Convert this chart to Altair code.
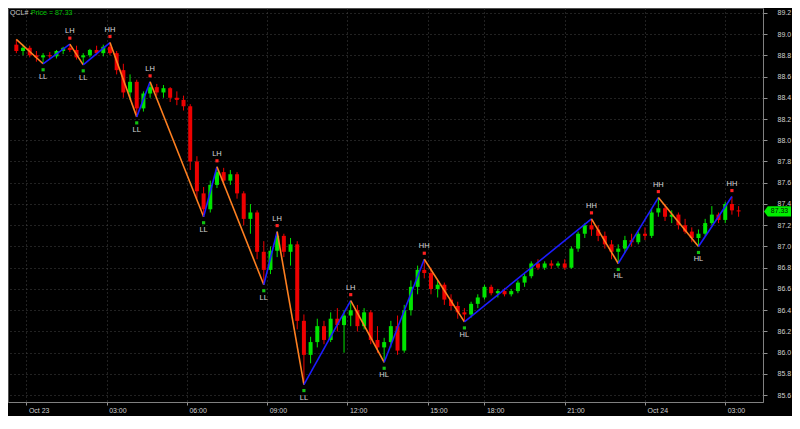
import altair as alt
import pandas as pd

symbol = "QCL#"
last_price = 87.33

opens = [88.90, 88.84, 88.87, 88.80, 88.78, 88.80, 88.79, 88.84, 88.87, 88.85,
         88.78, 88.80, 88.85, 88.82, 88.88, 88.82, 88.66, 88.45, 88.55, 88.30,
         88.44, 88.50, 88.45, 88.49, 88.40, 88.38, 88.32, 87.80, 87.50, 87.35,
         87.58, 87.70, 87.62, 87.68, 87.50, 87.26, 87.32, 86.95, 86.78, 86.96,
         87.10, 86.95, 87.02, 86.30, 85.98, 86.10, 86.25, 86.12, 86.32, 86.26,
         86.35, 86.40, 86.25, 86.38, 86.12, 86.05, 86.10, 86.25, 86.02, 86.40,
         86.62, 86.78, 86.75, 86.60, 86.64, 86.50, 86.44, 86.38, 86.36, 86.46,
         86.52, 86.62, 86.56, 86.58, 86.55, 86.58, 86.66, 86.72, 86.84, 86.80,
         86.84, 86.82, 86.84, 86.80, 86.98, 87.12, 87.20, 87.16, 87.10, 87.02,
         86.95, 86.98, 87.06, 87.04, 87.12, 87.10, 87.32, 87.36, 87.28, 87.30,
         87.20, 87.14, 87.08, 87.12, 87.22, 87.30, 87.25, 87.40, 87.34]
highs = [88.95, 88.90, 88.89, 88.84, 88.82, 88.83, 88.85, 88.88, 88.905, 88.89,
         88.82, 88.86, 88.89, 88.90, 88.92, 88.84, 88.72, 88.62, 88.57, 88.46,
         88.55, 88.53, 88.52, 88.50, 88.46, 88.42, 88.34, 87.85, 87.56, 87.62,
         87.75, 87.74, 87.72, 87.70, 87.52, 87.40, 87.34, 87.05, 87.00, 87.14,
         87.12, 87.08, 87.05, 86.36, 86.15, 86.32, 86.30, 86.38, 86.42, 86.40,
         86.49, 86.45, 86.42, 86.40, 86.25, 86.14, 86.30, 86.35, 86.45, 86.68,
         86.82, 86.88, 86.80, 86.68, 86.66, 86.55, 86.48, 86.42, 86.48, 86.55,
         86.64, 86.64, 86.60, 86.61, 86.60, 86.68, 86.74, 86.86, 86.88, 86.86,
         86.87, 86.86, 86.88, 87.00, 87.14, 87.22, 87.26, 87.20, 87.14, 87.06,
         87.02, 87.10, 87.12, 87.14, 87.18, 87.36, 87.46, 87.40, 87.34, 87.32,
         87.26, 87.18, 87.16, 87.26, 87.38, 87.32, 87.42, 87.47, 87.38]
lows = [88.82, 88.80, 88.78, 88.74, 88.72, 88.76, 88.77, 88.81, 88.83, 88.76,
        88.71, 88.78, 88.80, 88.79, 88.80, 88.62, 88.40, 88.38, 88.22, 88.27,
        88.40, 88.42, 88.40, 88.36, 88.33, 88.28, 87.72, 87.45, 87.28, 87.32,
        87.55, 87.58, 87.58, 87.45, 87.20, 87.12, 86.88, 86.64, 86.74, 86.90,
        86.90, 86.82, 86.22, 85.70, 85.90, 86.05, 86.08, 86.10, 86.20, 86.00,
        86.25, 86.20, 86.22, 86.08, 86.00, 85.91, 86.05, 85.98, 86.00, 86.35,
        86.55, 86.70, 86.55, 86.52, 86.45, 86.40, 86.32, 86.29, 86.33, 86.42,
        86.50, 86.54, 86.52, 86.53, 86.53, 86.56, 86.62, 86.70, 86.78, 86.78,
        86.79, 86.80, 86.78, 86.79, 86.95, 87.08, 87.10, 87.05, 86.98, 86.88,
        86.84, 86.94, 87.00, 87.02, 87.06, 87.08, 87.28, 87.24, 87.22, 87.16,
        87.12, 87.04, 87.00, 87.10, 87.20, 87.22, 87.22, 87.30, 87.28]
closes = [88.84, 88.87, 88.80, 88.78, 88.80, 88.79, 88.84, 88.87, 88.85, 88.78,
          88.80, 88.85, 88.82, 88.88, 88.82, 88.66, 88.45, 88.55, 88.30, 88.44,
          88.50, 88.45, 88.49, 88.40, 88.38, 88.32, 87.80, 87.52, 87.35, 87.58,
          87.70, 87.62, 87.68, 87.50, 87.26, 87.32, 86.95, 86.78, 86.96, 87.10,
          86.95, 87.02, 86.30, 85.98, 86.10, 86.25, 86.12, 86.32, 86.26, 86.35,
          86.40, 86.25, 86.38, 86.12, 86.05, 86.10, 86.25, 86.02, 86.40, 86.62,
          86.78, 86.75, 86.60, 86.64, 86.50, 86.44, 86.38, 86.36, 86.46, 86.52,
          86.62, 86.56, 86.58, 86.55, 86.58, 86.66, 86.72, 86.84, 86.80, 86.84,
          86.82, 86.84, 86.80, 86.98, 87.12, 87.20, 87.16, 87.10, 87.02, 86.95,
          86.98, 87.06, 87.04, 87.12, 87.10, 87.32, 87.36, 87.28, 87.30, 87.20,
          87.14, 87.08, 87.12, 87.22, 87.30, 87.25, 87.40, 87.34, 87.33]

pivot_idx = [0, 4, 8, 10, 14, 18, 20, 28, 30, 37, 39, 43, 50, 55, 61, 67, 86, 90, 96, 102, 107]
pivot_price = [88.95, 88.72, 88.905, 88.71, 88.92, 88.22, 88.55, 87.28, 87.75, 86.64, 87.14,
               85.70, 86.49, 85.91, 86.88, 86.29, 87.26, 86.84, 87.46, 87.00, 87.47]
pivot_label = ["", "LL", "LH", "LL", "HH", "LL", "LH", "LL", "LH", "LL", "LH",
               "LL", "LH", "HL", "HH", "HL", "HH", "HL", "HH", "HL", "HH"]

tick_pos = [1.5, 13.5, 25.5, 37.5, 49.5, 61.5, 70, 82, 94, 106]
tick_text = ["Oct 23", "03:00", "06:00", "09:00", "12:00", "15:00", "18:00", "21:00", "Oct 24", "03:00"]
price_ticks = [85.6, 85.8, 86.0, 86.2, 86.4, 86.6, 86.8, 87.0, 87.2, 87.4, 87.6,
               87.8, 88.0, 88.2, 88.4, 88.6, 88.8, 89.0, 89.2]

# ---- tables ----
n = len(opens)
bars = pd.DataFrame({"i": list(range(n)), "o": opens, "h": highs, "l": lows, "c": closes})
bars["dir"] = ["up" if c >= o else "down" for o, c in zip(opens, closes)]

segs = pd.DataFrame({"i": pivot_idx[:-1], "i2": pivot_idx[1:],
                     "p": pivot_price[:-1], "p2": pivot_price[1:]})
segs["dir"] = ["zz_up" if b > a else "zz_down" for a, b in zip(pivot_price[:-1], pivot_price[1:])]

piv = pd.DataFrame({"i": pivot_idx[1:], "p": pivot_price[1:], "lab": pivot_label[1:]})
piv_hi = piv[piv["lab"].isin(["HH", "LH"])]
piv_lo = piv[piv["lab"].isin(["LL", "HL"])]

W, H = 755, 394
FONT = "Liberation Sans"

xs = alt.Scale(domain=[-0.5, 110.9], nice=False, zero=False)
ys = alt.Scale(domain=[85.536, 89.245], nice=False, zero=False)
cs = alt.Scale(domain=["up", "down", "zz_up", "zz_down"],
               range=["#00e400", "#ee0000", "#1c1cff", "#ff8020"])

label_expr = " : ".join(f"datum.value == {p} ? '{t}'" for p, t in zip(tick_pos, tick_text)) + " : ''"

xaxis = alt.Axis(values=tick_pos, labelExpr=label_expr, title=None, grid=True,
                 gridColor="#444444", gridDash=[1, 3], gridWidth=1,
                 tickColor="#909090", tickSize=3, domainColor="#808080",
                 labelColor="#d0d0d0", labelFontSize=7, labelFont=FONT,
                 labelAlign="left", labelOffset=2, labelPadding=1,
                 labelOverlap=False, labelFlush=False)
yaxis = alt.Axis(orient="right", values=price_ticks, format=".1f", title=None, grid=True,
                 gridColor="#444444", gridDash=[1, 3], gridWidth=1,
                 tickColor="#909090", tickSize=4, domainColor="#808080",
                 labelColor="#d0d0d0", labelFontSize=7, labelFont=FONT,
                 labelPadding=10, labelOverlap=False, labelFlush=False)

X = lambda f: alt.X(f"{f}:Q", scale=xs, axis=xaxis)
Y = lambda f: alt.Y(f"{f}:Q", scale=ys, axis=yaxis)

wick = alt.Chart(bars).mark_rule(strokeWidth=1).encode(
    x=X("i"), y=Y("l"), y2="h:Q",
    color=alt.Color("dir:N", scale=cs, legend=None))
body = alt.Chart(bars).mark_bar(width=4).encode(
    x=X("i"), y=Y("o"), y2="c:Q",
    color=alt.Color("dir:N", scale=cs, legend=None))
zig = alt.Chart(segs).mark_rule(strokeWidth=1.6).encode(
    x=X("i"), x2="i2:Q", y=Y("p"), y2="p2:Q",
    color=alt.Color("dir:N", scale=cs, legend=None))

dot_hi = alt.Chart(piv_hi).mark_square(size=10, filled=True, yOffset=-6, opacity=1).encode(
    x=X("i"), y=Y("p"), color=alt.value("#ff2020"))
dot_lo = alt.Chart(piv_lo).mark_square(size=10, filled=True, yOffset=6, opacity=1).encode(
    x=X("i"), y=Y("p"), color=alt.value("#10c010"))
txt_hi = alt.Chart(piv_hi).mark_text(dy=-13, fontSize=7.5, font=FONT).encode(
    x=X("i"), y=Y("p"), text="lab:N", color=alt.value("#d8d8d8"))
txt_lo = alt.Chart(piv_lo).mark_text(dy=13, fontSize=7.5, font=FONT).encode(
    x=X("i"), y=Y("p"), text="lab:N", color=alt.value("#d8d8d8"))

title_a = alt.Chart(pd.DataFrame({"t": [f"{symbol} - "]})).mark_text(
    align="left", baseline="middle", fontSize=7, font=FONT).encode(
    x=alt.value(2), y=alt.value(5), text="t:N", color=alt.value("#c8c8c8"))
title_b = alt.Chart(pd.DataFrame({"t": [f"Price = {last_price:.2f}"]})).mark_text(
    align="left", baseline="middle", fontSize=7, font=FONT).encode(
    x=alt.value(23), y=alt.value(5), text="t:N", color=alt.value("#00c000"))

tag_df = pd.DataFrame({"p": [last_price], "t": [f"{last_price:.2f}"]})
tag_path = "M-1,0 L-0.72,-0.38 L1,-0.38 L1,0.38 L-0.72,0.38 Z"
tag = alt.Chart(tag_df).mark_point(shape=tag_path, size=729, filled=True, opacity=1,
                                   strokeWidth=0).encode(
    x=alt.value(W + 14.5), y=Y("p"), color=alt.value("#00ee00"))
tag_txt = alt.Chart(tag_df).mark_text(fontSize=7, font=FONT, baseline="middle").encode(
    x=alt.value(W + 16.5), y=Y("p"), text="t:N", color=alt.value("#002000"))

chart = alt.layer(wick, body, zig, dot_hi, dot_lo, txt_hi, txt_lo, title_a, title_b, tag, tag_txt).properties(
    width=W, height=H,
    autosize=alt.AutoSizeParams(type="none"),
    padding={"left": 0, "top": 0, "right": 29, "bottom": 14},
).configure(background="#000000").configure_view(stroke="#505050", fill="#000000")

chart.save("out.html", embed_options={"renderer": "svg", "actions": False})
